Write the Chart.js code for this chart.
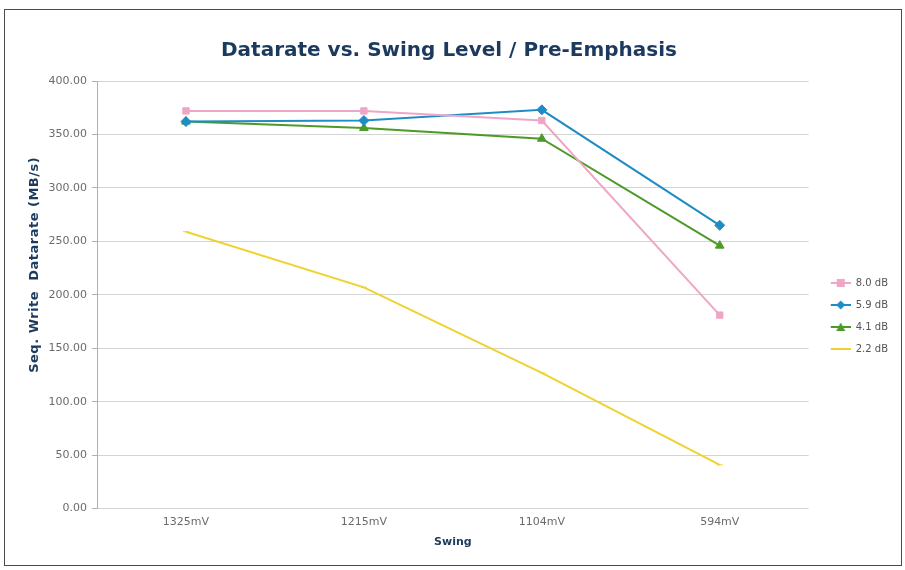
<!DOCTYPE html>
<html>
<head>
<meta charset="utf-8">
<title>Datarate vs. Swing Level / Pre-Emphasis</title>
<script src="https://cdn.jsdelivr.net/npm/chart.js@4.4.1/dist/chart.umd.min.js"></script>
<style>
  html, body { margin: 0; padding: 0; background: #fff; }
  #wrap { position: relative; width: 905px; height: 570px; }
  #wrap canvas { position: absolute; left: 0; top: 0; }
  #frame {
    position: absolute; left: 4px; top: 9px; width: 898px; height: 557px;
    border: 1px solid #4a4a4a; box-sizing: border-box; pointer-events: none;
  }
</style>
</head>
<body>
<div id="wrap">
  <canvas id="rateChart" width="905" height="570"></canvas>
  <div id="frame"></div>
</div>
<script>
// Swing levels on the x axis
const swingLevels = ['1325mV', '1215mV', '1104mV', '594mV'];

// Seq. write datarate (MB/s) per pre-emphasis setting
const rate80dB = [372, 372, 363, 181];
const rate59dB = [362, 363, 373, 265];
const rate41dB = [362, 356, 346, 246];
const rate22dB = [259, 207, 127, 41];

// Y axis range / step
const yMin = 0;
const yMax = 400;
const yStep = 50;

const FONT = '"DejaVu Sans", "Liberation Sans", Arial, sans-serif';
const NAVY = '#1b3a5e';
const TICK_GREY = '#6b6b6b';

// Small line+marker swatch used as the legend icon
function swatch(color, style) {
    const c = document.createElement('canvas');
    c.width = 30; c.height = 12;
    const g = c.getContext('2d');
    g.strokeStyle = color;
    g.fillStyle = color;
    g.lineWidth = 2;
    g.beginPath(); g.moveTo(10, 6); g.lineTo(30, 6); g.stroke();
    g.beginPath();
    if (style === 'rect') {
        g.rect(16, 2, 8, 8);
    } else if (style === 'rectRot') {
        g.moveTo(20, 1.5); g.lineTo(24.5, 6); g.lineTo(20, 10.5); g.lineTo(15.5, 6);
    } else if (style === 'triangle') {
        g.moveTo(20, 1.5); g.lineTo(24.5, 10); g.lineTo(15.5, 10);
    }
    g.closePath();
    if (style) g.fill();
    return c;
}

const series = [
    { label: '8.0 dB', data: rate80dB, color: '#efa6c6', style: 'rect', radius: 4.5 },
    { label: '5.9 dB', data: rate59dB, color: '#1f8cc6', style: 'rectRot', radius: 5 },
    { label: '4.1 dB', data: rate41dB, color: '#4d9a29', style: 'triangle', radius: 5 },
    { label: '2.2 dB', data: rate22dB, color: '#efd230', style: 'line', radius: 3 }
];

// Rotated y axis title, centred a little above the plot middle
const sideTitle = {
    id: 'sideTitle',
    afterDraw(chart, args, opts) {
        const { ctx, chartArea } = chart;
        ctx.save();
        ctx.translate(opts.x, (chartArea.top + chartArea.bottom) / 2 + opts.shift);
        ctx.rotate(-Math.PI / 2);
        ctx.font = 'bold 13px ' + FONT;
        ctx.fillStyle = NAVY;
        ctx.textAlign = 'center';
        ctx.textBaseline = 'middle';
        if ('letterSpacing' in ctx) ctx.letterSpacing = '0.5px';
        ctx.fillText(opts.text, 0, 0);
        ctx.restore();
    }
};

new Chart(document.getElementById('rateChart'), {
    type: 'line',
    data: {
        labels: swingLevels,
        datasets: series.map(s => ({
            label: s.label,
            data: s.data,
            borderColor: s.color,
            backgroundColor: s.color,
            borderWidth: 2,
            pointStyle: s.style,
            pointRadius: s.radius,
            pointBorderWidth: 1,
            pointBorderColor: s.color,
            pointBackgroundColor: s.color,
            tension: 0,
            fill: false,
            legendIcon: swatch(s.color, s.style === 'line' ? null : s.style)
        }))
    },
    options: {
        responsive: false,
        animation: false,
        layout: { padding: { top: 0, right: 7, bottom: 21, left: 0 } },
        plugins: {
            title: {
                display: true,
                text: 'Datarate vs. Swing Level / Pre-Emphasis',
                color: NAVY,
                font: { family: FONT, size: 20, weight: 'bold' },
                padding: { top: 39, bottom: 18 }
            },
            legend: {
                position: 'right',
                align: 'center',
                title: { display: true, text: ' ', font: { size: 10 }, padding: { top: 71, bottom: 0 } },
                labels: {
                    usePointStyle: true,
                    pointStyleWidth: 30,
                    padding: 12,
                    color: '#555',
                    font: { family: FONT, size: 10 },
                    generateLabels(chart) {
                        return chart.data.datasets.map((ds, i) => ({
                            text: ds.label,
                            fillStyle: ds.borderColor,
                            strokeStyle: ds.borderColor,
                            lineWidth: 0,
                            pointStyle: ds.legendIcon,
                            hidden: !chart.isDatasetVisible(i),
                            datasetIndex: i,
                            fontColor: '#555'
                        }));
                    }
                }
            },
            tooltip: { enabled: false },
            sideTitle: { text: 'Seq. Write  Datarate (MB/s)', x: 35, shift: -30 }
        },
        scales: {
            x: {
                offset: true,
                grid: { display: false, drawTicks: false },
                border: { display: false },
                ticks: { color: TICK_GREY, padding: 7, font: { family: FONT, size: 11 } },
                title: {
                    display: true,
                    text: 'Swing',
                    color: NAVY,
                    font: { family: FONT, size: 11, weight: 'bold' },
                    padding: { top: 0, bottom: 0 }
                }
            },
            y: {
                min: yMin,
                max: yMax,
                afterFit(scale) { scale.width = 97; },
                grid: { color: '#d4d4d4', lineWidth: 1, tickLength: 5, tickColor: '#b0b0b0' },
                border: { display: true, color: '#b0b0b0' },
                ticks: {
                    stepSize: yStep,
                    padding: 5,
                    color: TICK_GREY,
                    font: { family: FONT, size: 11 },
                    callback: v => v.toFixed(2)
                }
            }
        }
    },
    plugins: [sideTitle]
});
</script>
</body>
</html>
